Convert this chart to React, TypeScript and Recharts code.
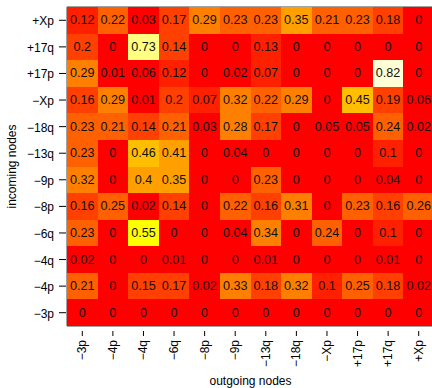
import { ScatterChart, Scatter, XAxis, YAxis, ReferenceArea } from "recharts"

const colLabels = ["−3p", "−4p", "−4q", "−6q", "−8p", "−9p", "−13q", "−18q", "−Xp", "+17p", "+17q", "+Xp"]
const rowLabels = ["+Xp", "+17q", "+17p", "−Xp", "−18q", "−13q", "−9p", "−8p", "−6q", "−4q", "−4p", "−3p"]

// one list per incoming node (row), in column order
const rowPlusXp = [0.12, 0.22, 0.03, 0.17, 0.29, 0.23, 0.23, 0.35, 0.21, 0.23, 0.18, 0]
const rowPlus17q = [0.2, 0, 0.73, 0.14, 0, 0, 0.13, 0, 0, 0, 0, 0]
const rowPlus17p = [0.29, 0.01, 0.06, 0.12, 0, 0.02, 0.07, 0, 0, 0, 0.82, 0]
const rowMinusXp = [0.16, 0.29, 0.01, 0.2, 0.07, 0.32, 0.22, 0.29, 0, 0.45, 0.19, 0.06]
const rowMinus18q = [0.23, 0.21, 0.14, 0.21, 0.03, 0.28, 0.17, 0, 0.05, 0.05, 0.24, 0.02]
const rowMinus13q = [0.23, 0, 0.46, 0.41, 0, 0.04, 0, 0, 0, 0, 0.1, 0]
const rowMinus9p = [0.32, 0, 0.4, 0.35, 0, 0, 0.23, 0, 0, 0, 0.04, 0]
const rowMinus8p = [0.16, 0.25, 0.02, 0.14, 0, 0.22, 0.16, 0.31, 0, 0.23, 0.16, 0.26]
const rowMinus6q = [0.23, 0, 0.55, 0, 0, 0.04, 0.34, 0, 0.24, 0, 0.1, 0]
const rowMinus4q = [0.02, 0, 0, 0.01, 0, 0, 0.01, 0, 0, 0, 0.01, 0]
const rowMinus4p = [0.21, 0, 0.15, 0.17, 0.02, 0.33, 0.18, 0.32, 0.1, 0.25, 0.18, 0.02]
const rowMinus3p = [0, 0, 0, 0, 0, 0, 0, 0, 0, 0, 0, 0]

const rows = [
  rowPlusXp, rowPlus17q, rowPlus17p, rowMinusXp, rowMinus18q, rowMinus13q,
  rowMinus9p, rowMinus8p, rowMinus6q, rowMinus4q, rowMinus4p, rowMinus3p,
]

// R heat.colors(12)
const heat = [
  "#FF0000", "#FF2000", "#FF4000", "#FF6000", "#FF8000", "#FF9F00",
  "#FFBF00", "#FFDF00", "#FFFF00", "#FFFF2A", "#FFFF80", "#FFFFD5",
]

const zmax = Math.max(...rows.flat())
const colorFor = (v: number) => {
  if (v <= 0) return heat[0]
  const bin = Math.ceil(v / (zmax / heat.length) - 1e-9) - 1
  return heat[Math.max(0, Math.min(heat.length - 1, bin))]
}

const data = rows.flatMap((vals, r) => vals.map((v, c) => ({ x: c, y: r, v })))

const W = 434
const H = 388
const LEFT = 67
const TOP = 7
const BOTTOM = 62
const CELL_W = (W - LEFT) / colLabels.length
const CELL_H = (H - TOP - BOTTOM) / rowLabels.length
const FONT = "'Liberation Sans', Arial, sans-serif"

const Cell = (props: any) => {
  const { cx, cy, payload } = props
  return (
    <g>
      <rect
        x={cx - CELL_W / 2}
        y={cy - CELL_H / 2}
        width={CELL_W + 0.5}
        height={CELL_H + 0.5}
        fill={colorFor(payload.v)}
        shapeRendering="crispEdges"
      />
      <text x={cx} y={cy} textAnchor="middle" dominantBaseline="central" fontSize={12.6} fill="#111" fontFamily={FONT}>
        {String(payload.v)}
      </text>
    </g>
  )
}

const XTick = (props: any) => {
  const { x, y, payload } = props
  return (
    <g>
      <line x1={x} x2={x} y1={y + 5} y2={y + 10} stroke="#000" />
      <text
        transform={`translate(${x},${y + 14}) rotate(-90)`}
        textAnchor="end"
        dominantBaseline="central"
        fontSize={12}
        fill="#000"
        fontFamily={FONT}
      >
        {colLabels[payload.value]}
      </text>
    </g>
  )
}

const YTick = (props: any) => {
  const { x, y, payload } = props
  return (
    <g>
      <line x1={x - 8} x2={x - 1} y1={y} y2={y} stroke="#000" />
      <text x={x - 13} y={y + 1} textAnchor="end" dominantBaseline="central" fontSize={12} fill="#000" fontFamily={FONT}>
        {rowLabels[payload.value]}
      </text>
    </g>
  )
}

export default function App() {
  const idx = colLabels.map((_, i) => i)
  return (
    <div style={{ position: "absolute", left: 0, top: 0, width: 432, height: H, overflow: "hidden", background: "#fff" }}>
      <ScatterChart width={W} height={H} margin={{ top: TOP, right: 0, bottom: 0, left: 0 }}>
        <XAxis
          type="number"
          dataKey="x"
          domain={[-0.5, 11.5]}
          ticks={idx}
          interval={0}
          height={BOTTOM}
          axisLine={false}
          tickLine={false}
          tickSize={0}
          tickMargin={0}
          tick={<XTick />}
          allowDataOverflow
          label={{
            content: (p: any) => (
              <text
                x={p.viewBox.x + p.viewBox.width / 2}
                y={H - 7}
                textAnchor="middle"
                dominantBaseline="central"
                fontSize={12}
                fill="#000"
                fontFamily={FONT}
              >
                outgoing nodes
              </text>
            ),
          }}
        />
        <YAxis
          type="number"
          dataKey="y"
          domain={[-0.5, 11.5]}
          ticks={idx}
          interval={0}
          reversed
          width={LEFT}
          axisLine={false}
          tickLine={false}
          tickSize={0}
          tickMargin={0}
          tick={<YTick />}
          allowDataOverflow
          label={{
            content: (p: any) => (
              <text
                transform={`translate(12,${p.viewBox.y + p.viewBox.height / 2}) rotate(-90)`}
                textAnchor="middle"
                dominantBaseline="central"
                fontSize={12}
                fill="#000"
                fontFamily={FONT}
              >
                incoming nodes
              </text>
            ),
          }}
        />
        <Scatter data={data} shape={<Cell />} isAnimationActive={false} />
        <ReferenceArea x1={-0.5} x2={11.5} y1={-0.5} y2={11.5} fill="none" fillOpacity={0} stroke="#444" strokeWidth={1} />
      </ScatterChart>
    </div>
  )
}
